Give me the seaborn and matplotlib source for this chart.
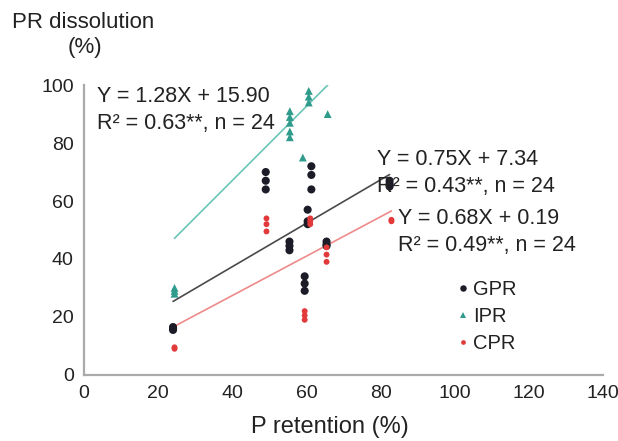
import numpy as np
import pandas as pd
import matplotlib
matplotlib.use("Agg")
import matplotlib.pyplot as plt
import seaborn as sns

# ---- data ----
gpr_x = [24, 24, 24, 49, 49, 49, 55.4, 55.4, 55.4, 59.5, 59.5, 59.5,
         60.3, 60.3, 60.3, 61.3, 61.3, 61.3, 65.4, 65.4, 65.4, 82.4, 82.4, 82.4]
gpr_y = [16, 16.5, 15.5, 70, 67, 64, 46, 44.5, 43, 34, 31.5, 29,
         57, 53, 52, 72, 69, 64, 46, 45, 44.5, 67, 66, 65]
ipr_x = [24.4, 24.4, 24.4, 55.5, 55.5, 55.5, 55.5, 55.5, 59, 60.6, 60.6, 60.6, 65.7]
ipr_y = [30, 29, 28, 91, 89, 87, 84, 82, 75, 98, 96, 94, 90]
cpr_x = [24.4, 24.4, 49.2, 49.2, 49.2, 59.5, 59.5, 59.5, 61, 61, 61,
         65.4, 65.4, 65.4, 82.9, 82.9]
cpr_y = [9.5, 9, 54, 52, 49.5, 22, 20.5, 19, 54, 53, 52, 44, 41.5, 39, 53.5, 53]

series = ["GPR", "IPR", "CPR"]
slopes = [0.75, 1.28, 0.68]
intercepts = [7.34, 15.90, 0.19]
fit_ranges = [(24, 82.4), (24.4, 65.7), (24.4, 82.9)]
eq_texts = ["Y = 0.75X + 7.34\nR² = 0.43**, n = 24",
            "Y = 1.28X + 15.90\nR² = 0.63**, n = 24",
            "Y = 0.68X + 0.19\nR² = 0.49**, n = 24"]

x_ticks = [0, 20, 40, 60, 80, 100, 120, 140]
y_ticks = [0, 20, 40, 60, 80, 100]

pt_colors = {"GPR": "#1c1c28", "IPR": "#2e9b8c", "CPR": "#e23a3a"}
line_colors = {"GPR": "#4a4a4a", "IPR": "#6cc4b8", "CPR": "#ee8a8a"}

df = pd.concat([
    pd.DataFrame({"x": gpr_x, "y": gpr_y, "s": "GPR"}),
    pd.DataFrame({"x": ipr_x, "y": ipr_y, "s": "IPR"}),
    pd.DataFrame({"x": cpr_x, "y": cpr_y, "s": "CPR"}),
])

sns.set_style("white")
plt.rcParams["font.family"] = ["Liberation Sans", "DejaVu Sans"]

fig = plt.figure(figsize=(6.18, 4.41), dpi=100)
ax = fig.add_axes([0.136, 0.150, 0.840, 0.657])

# regression lines
for s, m, b, (x0, x1) in zip(series, slopes, intercepts, fit_ranges):
    xs = np.array([x0, x1])
    sns.lineplot(x=xs, y=m * xs + b, ax=ax, color=line_colors[s], lw=1.2,
                 legend=False, zorder=2)

sns.scatterplot(data=df, x="x", y="y", hue="s", style="s",
                palette=pt_colors,
                markers={"GPR": "o", "IPR": "^", "CPR": "o"},
                size="s", sizes={"GPR": 34, "IPR": 32, "CPR": 18},
                edgecolor="none", ax=ax, zorder=3, clip_on=False)

ax.set_xlim(0, 140)
ax.set_ylim(0, 100)
ax.set_xticks(x_ticks)
ax.set_yticks(y_ticks)
tc = "#222222"
ax.tick_params(axis="both", labelsize=14, colors="#999999", labelcolor=tc,
               direction="out", length=4, width=1)
for sp in ["top", "right"]:
    ax.spines[sp].set_visible(False)
for sp in ["left", "bottom"]:
    ax.spines[sp].set_color("#aaaaaa")
    ax.spines[sp].set_linewidth(1.6)

ax.set_xlabel("P retention (%)", fontsize=17, color=tc)
ax.xaxis.label.set_va("center")
ax.xaxis.set_label_coords(0.474, -0.179)
ax.set_ylabel("")
fig.text(0.02, 0.95, "PR dissolution", fontsize=16, color=tc, ha="left", va="center")
fig.text(0.11, 0.893, "(%)", fontsize=16, color=tc, ha="left", va="center")

# equations
eq_pos = [(79.1, 69.6), (3.4, 91.4), (84.8, 49.3)]
for t, (xx, yy) in zip(eq_texts, eq_pos):
    ax.text(xx, yy, t, fontsize=15.5, color=tc, ha="left", va="center",
            linespacing=1.35)

leg = ax.legend(loc="upper left", bbox_to_anchor=(0.675, 0.355), frameon=False,
                fontsize=14.5, handletextpad=-0.5, labelspacing=0.4,
                borderaxespad=0, markerscale=0.8)
for txt in leg.get_texts():
    txt.set_color(tc)

fig.savefig("out.png", dpi=100)
